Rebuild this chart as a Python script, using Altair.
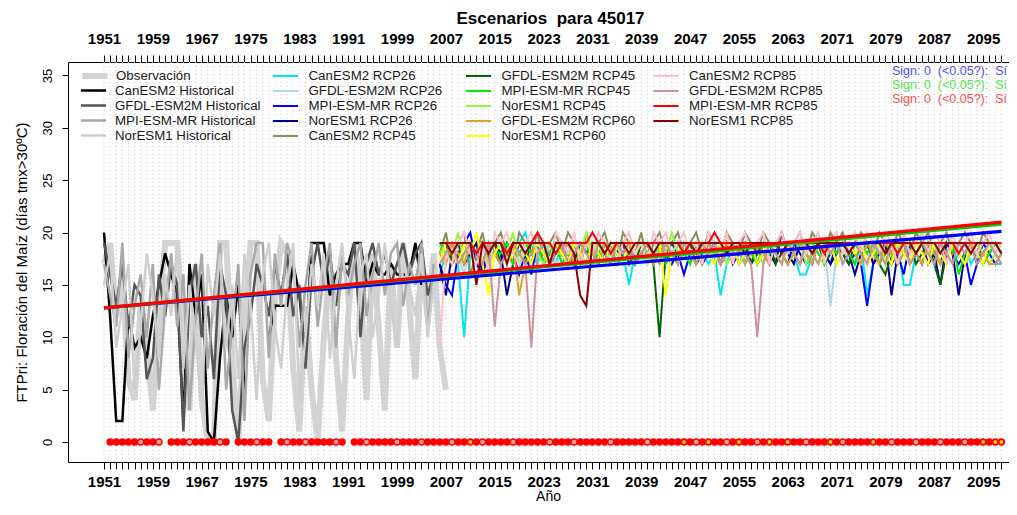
import altair as alt
import pandas as pd

# ---------------- data ----------------
obs_years = list(range(1951, 2008))
hist_years = list(range(1951, 2006))
fut_years = list(range(2006, 2099))
grid_years = list(range(1951, 2099))
y_ticks = [0, 5, 10, 15, 20, 25, 30, 35]

obs = [17, 19, 12, 16, 6, 4, 13, 9, 3, 12,
       19, 19, 19, 10, 3, 17, 4, 0, 0, 19,
       19, 8, 0, 11, 19, 19, 6, 2, 14, 19,
       18, 7, 1, 13, 5, 0, 10, 17, 8, 1,
       12, 19, 15, 4, 18, 11, 3, 17, 9, 19,
       13, 6, 17, 12, 18, 9, 5]

can_hist = [20, 12, 2, 2, 12, 9, 10, 8, 12, 15,
            18, 16, 14, 2, 17, 12, 16, 1, 0, 8,
            14, 10, 15, 5, None, None, None, 10, 13, 13,
            13, 17, 14, 8, 19, 19, 19, 14, 16, 17,
            17, 19, 19, 15, 17, 16, 16, 17, 16, 16,
            16, 19, 15, None, None]
gfdl_hist = [19, 16, 13, 17, 11, 15, 14, 6, 8, 16,
             12, 17, 15, 1, 14, 17, 10, 13, 6, 17,
             14, 3, 0, 9, 12, 17, 15, 12, 17, 14,
             18, 12, 15, 7, 16, 19, 15, 18, 13, 17,
             16, 19, 10, 17, 19, 16, 18, 15, 17, 19,
             16, 18, 19, 14, 16]
mpi_hist = [17, 14, 11, 19, 8, 13, 16, 10, 17, 5,
            13, 18, 11, 16, 3, 12, 18, 7, 14, 19,
            5, 11, 17, 2, 16, 19, 19, 8, 18, 13,
            19, 17, 9, 15, 19, 11, 16, 19, 9, 18,
            14, 17, 19, 12, 16, 19, 14, 18, 19, 13,
            17, 15, 19, 11, 17]
nor_hist = [15, 18, 9, 13, 17, 5, 11, 18, 14, 8,
            16, 12, 19, 7, 15, 10, 3, 17, 12, 18,
            9, 15, 6, 18, 13, 4, 16, 19, 11, 7,
            15, 19, 4, 10, 17, 13, 18, 8, 15, 19,
            12, 6, 16, 18, 10, 14, 19, 13, 9, 17,
            15, 12, 18, 10, 15]

can_26 = [16, 18, 19, 17, 10, 18, 19, 17, 19, 18,
          17, 19, 18, 19, 20, 18, 17, 19, 18, 17,
          19, 18, 17, 19, 18, 19, 17, 18, 19, 17,
          18, 15, 18, 19, 17, 18, 19, 18, 17, 19,
          18, 17, 19, 18, 17, 18, 14, 17, 19, 18,
          17, 19, 18, 17, 19, 18, 17, 19, 18, 16,
          16, 18, 19, 17, 18, 19, 17, 18, 17, 19,
          14, 17, 19, 18, 17, 19, 15, 15, 18, 19,
          18, 17, 19, 18, 17, 18, 19, 17, 18, 19,
          18, 17, 17]
gfdl_26 = [18, 17, 19, 18, 16, 19, 18, 17, 19, 18,
           19, 17, 18, 19, 18, 17, 19, 18, 19, 17,
           18, 19, 17, 18, 19, 18, 17, 19, 18, 19,
           17, 18, 19, 18, 17, 19, 18, 18, 19, 17,
           19, 18, 17, 19, 18, 19, 18, 17, 18, 19,
           17, 18, 19, 18, 19, 17, 18, 19, 18, 17,
           19, 18, 17, 19, 13, 18, 19, 17, 18, 19,
           18, 17, 19, 18, 19, 17, 18, 19, 18, 17,
           19, 18, 17, 18, 19, 18, 17, 19, 18, 19,
           18, 19, 18]
mpi_26 = [17, 15, 14, 18, 19, 20, 17, 16, 19, 18,
          17, 19, 18, 16, 18, 16, 19, 17, 18, 19,
          18, 17, 19, 18, 17, 19, 18, 17, 19, 18,
          19, 17, 18, 19, 18, 17, 19, 18, 17, 18,
          16, 18, 19, 17, 18, 19, 17, 18, 19, 17,
          18, 19, 17, 18, 17, 19, 18, 17, 19, 18,
          17, 18, 19, 18, 17, 19, 18, 17, 18, 17,
          13, 17, 18, 19, 17, 18, 16, 19, 18, 17,
          19, 18, 17, 19, 18, 17, 18, 15, 17, 19,
          18, 17, 18]
nor_26 = [17, 14, 18, 19, 17, 18, 19, 16, 18, 19,
          18, 14, 17, 19, 18, 17, 19, 18, 17, 18,
          19, 17, 18, 17, 19, 18, 17, 19, 18, 17,
          18, 19, 17, 18, 19, 17, 18, 19, 18, 17,
          19, 18, 17, 18, 19, 18, 17, 19, 17, 18,
          19, 17, 18, 19, 18, 17, 20, 18, 17, 19,
          18, 17, 19, 18, 17, 18, 19, 18, 16, 18,
          19, 17, 18, 19, 14, 18, 19, 17, 18, 19,
          17, 18, 15, 19, 18, 14, 18, 19, 17, 18,
          19, 18, 17]
can_45 = [18, 20, 17, 19, 20, 16, 18, 20, 17, 19,
          20, 18, 17, 20, 19, 18, 20, 17, 19, 20,
          18, 20, 19, 17, 20, 18, 19, 20, 18, 17,
          20, 19, 18, 20, 17, 19, 20, 18, 19, 20,
          18, 19, 20, 18, 20, 19, 18, 20, 19, 18,
          20, 19, 18, 20, 19, 18, 20, 18, 19, 20,
          18, 20, 19, 18, 20, 19, 20, 18, 19, 20,
          19, 18, 20, 19, 18, 20, 19, 18, 20, 19,
          20, 18, 19, 20, 18, 19, 20, 19, 18, 20,
          19, 18, 19]
gfdl_45 = [18, 19, 17, 18, 19, 18, 17, 19, 18, 19,
           17, 18, 19, 18, 17, 19, 18, 19, 17, 18,
           19, 18, 17, 19, 18, 19, 18, 17, 19, 18,
           19, 18, 17, 19, 18, 17, 10, 18, 19, 18,
           18, 19, 17, 18, 19, 18, 17, 19, 18, 19,
           18, 17, 19, 18, 19, 17, 18, 19, 18, 17,
           19, 18, 19, 17, 18, 19, 18, 17, 19, 18,
           19, 18, 17, 16, 18, 19, 18, 19, 17, 18,
           19, 17, 15, 18, 19, 18, 17, 19, 18, 17,
           18, 19, 18]
mpi_45 = [19, 18, 19, 17, 18, 19, 18, 17, 19, 18,
          18, 19, 17, 18, 19, 18, 19, 17, 18, 19,
          17, 18, 19, 18, 19, 17, 18, 19, 18, 19,
          18, 19, 17, 18, 19, 18, 19, 17, 18, 19,
          18, 17, 19, 18, 19, 18, 17, 18, 19, 18,
          19, 18, 17, 19, 18, 19, 18, 17, 18, 19,
          18, 19, 18, 17, 19, 18, 19, 18, 17, 19,
          18, 19, 17, 18, 19, 17, 18, 19, 18, 19,
          18, 17, 19, 18, 19, 16, 18, 19, 18, 17,
          18, 19, 18]
nor_45 = [18, 19, 18, 20, 17, 19, 18, 19, 17, 18,
          19, 18, 20, 17, 18, 19, 18, 17, 19, 18,
          18, 17, 19, 18, 20, 18, 19, 17, 18, 19,
          17, 19, 18, 19, 18, 17, 19, 18, 20, 18,
          19, 18, 17, 19, 18, 18, 19, 17, 18, 19,
          18, 19, 18, 17, 19, 18, 17, 19, 18, 19,
          17, 18, 19, 18, 19, 17, 18, 19, 18, 17,
          19, 18, 19, 17, 18, 19, 18, 17, 19, 18,
          18, 19, 17, 18, 19, 18, 17, 18, 19, 18,
          17, 18, 19]
gfdl_60 = [18, 17, 19, 18, 17, 19, 18, 17, 19, 18,
           17, 18, 19, 14, 17, 18, 19, 18, 17, 19,
           18, 19, 17, 18, 19, 18, 17, 19, 18, 17,
           19, 18, 17, 18, 19, 17, 18, 19, 18, 17,
           18, 19, 18, 17, 19, 18, 17, 19, 18, 19,
           17, 18, 19, 18, 17, 19, 18, 17, 18, 19,
           18, 17, 19, 18, 19, 17, 18, 19, 18, 17,
           19, 18, 17, 19, 18, 17, 18, 19, 18, 17,
           19, 18, 17, 18, 19, 18, 17, 19, 18, 18,
           17, 17, 18]
nor_60 = [17, 19, 18, 17, 19, 18, 20, 17, 14, 18,
          19, 17, 18, 19, 18, 17, 19, 18, 17, 19,
          18, 17, 19, 18, 17, 19, 18, 17, 19, 18,
          17, 19, 18, 19, 17, 18, 19, 14, 18, 17,
          19, 18, 17, 19, 18, 17, 19, 18, 19, 17,
          18, 19, 17, 18, 19, 18, 17, 19, 18, 17,
          19, 18, 17, 18, 19, 17, 18, 19, 18, 19,
          17, 18, 19, 18, 17, 19, 18, 17, 19, 18,
          17, 19, 18, 17, 19, 18, 17, 19, 18, 17,
          19, 18, 17]
can_85 = [9, 18, 17, 19, 20, 18, 17, 19, 16, 20,
          19, 20, 18, 17, 19, 20, 18, 19, 17, 20,
          19, 18, 20, 17, 19, 18, 20, 19, 18, 17,
          19, 20, 18, 19, 17, 20, 19, 20, 18, 19,
          20, 18, 19, 17, 20, 19, 18, 20, 17, 19,
          20, 18, 19, 20, 17, 19, 20, 18, 19, 20,
          18, 19, 20, 17, 19, 20, 18, 19, 20, 18,
          20, 19, 18, 20, 19, 17, 20, 18, 19, 20,
          18, 20, 19, 17, 20, 18, 19, 20, 18, 19,
          20, 18, 19]
gfdl_85 = [17, 18, 19, 17, 18, 19, 18, 17, 19, 11,
           17, 18, 19, 18, 17, 9, 18, 19, 17, 18,
           19, 17, 18, 19, 18, 17, 19, 18, 17, 19,
           18, 19, 17, 18, 19, 18, 17, 19, 18, 17,
           19, 18, 17, 19, 18, 19, 17, 18, 19, 18,
           18, 17, 10, 17, 19, 18, 17, 19, 18, 17,
           19, 18, 17, 19, 18, 19, 17, 18, 19, 18,
           17, 19, 18, 17, 19, 18, 19, 17, 18, 19,
           18, 17, 19, 18, 17, 19, 18, 19, 17, 18,
           19, 18, 17]
mpi_85 = [19, 19, 19, 19, 19, 19, 18, 19, 19, 19,
          19, 18, 19, 19, 19, 19, 20, 19, 19, 18,
          19, 19, 19, 19, 19, 20, 19, 19, 18, 19,
          19, 19, 19, 19, 19, 19, 19, 19, 19, 19,
          18, 19, 19, 19, 19, 20, 19, 19, 19, 19,
          19, 19, 18, 19, 19, 19, 19, 19, 19, 19,
          19, 19, 19, 18, 19, 19, 19, 19, 19, 19,
          19, 19, 19, 19, 19, 18, 19, 19, 19, 19,
          19, 19, 19, 19, 19, 18, 19, 19, 19, 19,
          19, 19, 19]
nor_85 = [19, 19, 18, 19, 19, 19, 15, 19, 18, 19,
          19, 17, 19, 19, 18, 19, 19, 19, 17, 19,
          19, 19, 18, 14, 13, 19, 19, 18, 19, 19,
          19, 18, 19, 19, 19, 18, 19, 19, 19, 19,
          19, 19, 18, 19, 19, 19, 19, 18, 19, 19,
          18, 19, 19, 19, 19, 19, 18, 19, 19, 19,
          19, 18, 19, 19, 19, 19, 19, 18, 19, 19,
          19, 19, 19, 18, 19, 19, 19, 19, 18, 19,
          19, 19, 18, 19, 19, 19, 19, 18, 19, 19,
          19, 19, 18]

# linear trends (start/end values)
trend_names = ["RCP26", "RCP45", "RCP85"]
trend_colors = ["#0000FF", "#00CC00", "#FF0000"]
trend_years = [1951, 2098]
trend_start = [12.8, 12.8, 12.8]
trend_end = [20.1, 20.8, 21.0]

dot_years = (list(range(1952, 1961)) + list(range(1962, 1972)) + list(range(1973, 1979))
             + list(range(1980, 1991)) + list(range(1992, 2099)))
pink_dot_years = [1957, 1960, 1965, 1970, 1976, 1981, 1984, 1989, 1994, 1999, 2003,
                  2008, 2013, 2018, 2024, 2028, 2034, 2040, 2048, 2053, 2058, 2066,
                  2072, 2080, 2084, 2088, 2092]
yellow_dot_years = [2011, 2046, 2050, 2055, 2060, 2063, 2070, 2077, 2095, 2097, 2098]

obs_names = ["Observación"]
obs_colors = ["#D3D3D3"]
hist_names = ["CanESM2 Historical", "GFDL-ESM2M Historical",
              "MPI-ESM-MR Historical", "NorESM1 Historical"]
hist_colors = ["#000000", "#555555", "#A9A9A9", "#CFCFCF"]
col2_names = ["CanESM2 RCP26", "GFDL-ESM2M RCP26", "MPI-ESM-MR RCP26", "NorESM1 RCP26", "CanESM2 RCP45"]
col2_colors = ["#00E5EE", "#ADD8E6", "#0000FF", "#00008B", "#8B8B5E"]
col3_names = ["GFDL-ESM2M RCP45", "MPI-ESM-MR RCP45", "NorESM1 RCP45", "GFDL-ESM2M RCP60", "NorESM1 RCP60"]
col3_colors = ["#006400", "#00EE00", "#99F53A", "#E0A030", "#FFFF00"]
col4_names = ["CanESM2 RCP85", "GFDL-ESM2M RCP85", "MPI-ESM-MR RCP85", "NorESM1 RCP85"]
col4_colors = ["#FFC0CB", "#CD919E", "#FF0000", "#8B0000"]

sign_text = "Sign:\u00a00\u00a0\u00a0(<0.05?):\u00a0\u00a0Sí"
sign_colors = ["#4D4DFF", "#4DE64D", "#FF4D4D"]

# ---------------- tables ----------------
def long(name, years, vals):
    return pd.DataFrame({"series": name, "year": years, "value": vals})

df_obs = long("Observación", obs_years, obs)
df_hist = pd.concat([long(n, hist_years, v) for n, v in
                     zip(hist_names, [can_hist, gfdl_hist, mpi_hist, nor_hist])])
df_c2 = pd.concat([long(n, fut_years, v) for n, v in
                   zip(col2_names, [can_26, gfdl_26, mpi_26, nor_26, can_45])])
df_c3 = pd.concat([long(n, fut_years, v) for n, v in
                   zip(col3_names, [gfdl_45, mpi_45, nor_45, gfdl_60, nor_60])])
df_c4 = pd.concat([long(n, fut_years, v) for n, v in
                   zip(col4_names, [can_85, gfdl_85, mpi_85, nor_85])])
df_trend = pd.concat([pd.DataFrame({"series": n, "year": trend_years, "value": [a, b]})
                      for n, a, b in zip(trend_names, trend_start, trend_end)])
df_dots = pd.DataFrame({"year": dot_years, "value": 0})
df_pink = pd.DataFrame({"year": pink_dot_years, "value": 0})
df_yel = pd.DataFrame({"year": yellow_dot_years, "value": 0})
df_grid = pd.DataFrame({"year": grid_years})

# ---------------- encodings ----------------
AX_FONT = "Liberation Sans Narrow, Liberation Sans, Arial"
W, H = 941, 400
x_scale = alt.Scale(domain=[1945.1, 2099.24], nice=False, zero=False)
y_scale = alt.Scale(domain=[-1.91, 36.28], nice=False, zero=False)
label_expr = "(datum.value - 1951) % 8 === 0 ? format(datum.value, 'd') : ''"

x_bottom = alt.X("year:Q", scale=x_scale,
                 axis=alt.Axis(orient="bottom", values=grid_years, labelExpr=label_expr,
                               title="Año", titleFont="Liberation Sans", titleFontSize=14,
                               titleFontWeight="normal", titleX=480, titleY=38,
                               titleBaseline="alphabetic", titleAlign="center",
                               labelFont=AX_FONT, labelFontSize=15, labelFontWeight="bold",
                               labelOverlap=False, labelFlush=False, tickSize=7,
                               labelPadding=5, grid=False, domain=False))
x_top = alt.X("year:Q", scale=x_scale,
              axis=alt.Axis(orient="top", values=grid_years, labelExpr=label_expr, title=None,
                            labelFont=AX_FONT, labelFontSize=15, labelFontWeight="bold",
                            labelOverlap=False, labelFlush=False, tickSize=7,
                            labelPadding=9, grid=False, domain=False))
y_left = alt.Y("value:Q", scale=y_scale,
               axis=alt.Axis(values=y_ticks, title="FTPri: Floración del Maíz (días tmx>30ºC)",
                             titleFont="Liberation Sans", titleFontSize=15,
                             titleFontWeight="normal", titlePadding=12,
                             labelFont="Liberation Sans", labelFontSize=13, labelAngle=-90,
                             tickSize=6, labelPadding=8, grid=False, domain=False))


def leg(x, y, sw, lo=15):
    return alt.Legend(orient="none", legendX=x, legendY=y, title=None,
                      symbolType="M-1.8,0H1.8", symbolSize=196, symbolStrokeWidth=sw,
                      labelFont="Liberation Sans", labelFontSize=13.3, labelColor="#1a1a1a",
                      labelOffset=lo, rowPadding=-0.6, padding=0, direction="vertical",
                      labelLimit=300)


def line_layer(df, names, colors, lx, ly, sw, lo=15):
    return alt.Chart(df).mark_line(strokeWidth=sw, invalid="break-paths-filter-domains").encode(
        x=x_bottom, y=y_left,
        color=alt.Color("series:N", scale=alt.Scale(domain=names, range=colors),
                        legend=leg(lx, ly, sw, lo), sort=names),
    )


obs_layer = line_layer(df_obs, obs_names, obs_colors, 17, 4, 6, 11)
hist_layer = line_layer(df_hist, hist_names, hist_colors, 17, 20, 2.5, 13)
c2 = line_layer(df_c2, col2_names, col2_colors, 209.5, 6, 2)
c3 = line_layer(df_c3, col3_names, col3_colors, 402.5, 6, 2)
c4 = line_layer(df_c4, col4_names, col4_colors, 590, 6, 2)

trend = alt.Chart(df_trend).mark_line(strokeWidth=3.2).encode(
    x=x_bottom, y=y_left,
    color=alt.Color("series:N", scale=alt.Scale(domain=trend_names, range=trend_colors), legend=None),
)

dots = alt.Chart(df_dots).mark_circle(size=55, color="#FF0000", opacity=1).encode(x=x_bottom, y=y_left)
pdots = alt.Chart(df_pink).mark_circle(size=22, color="#F4A0A8", opacity=1).encode(x=x_bottom, y=y_left)
ydots = alt.Chart(df_yel).mark_circle(size=14, color="#E8E000", opacity=1).encode(x=x_bottom, y=y_left)

texts = []
for i, c in enumerate(sign_colors):
    texts.append(
        alt.Chart(pd.DataFrame({"t": [sign_text]})).mark_text(
            align="right", baseline="middle", font="Liberation Sans", fontSize=12.5, color=c
        ).encode(x=alt.value(939), y=alt.value(9 + 14 * i), text="t:N")
    )

inner = alt.layer(obs_layer, hist_layer, c2, c3, c4, trend, dots, pdots, ydots, *texts).resolve_scale(
    color="independent")

grid_top = alt.Chart(df_grid).mark_rule(color="#C4C4C4", strokeDash=[1, 3], strokeWidth=1).encode(x=x_top)

chart = alt.layer(grid_top, inner).resolve_axis(x="independent").properties(
    width=W, height=H,
    title=alt.TitleParams("Escenarios\u00a0\u00a0para 45017", font=AX_FONT, fontSize=17,
                          fontWeight="bold", anchor="middle", dx=12, offset=3),
    autosize="none",
    padding={"left": 60, "top": 54, "right": 0, "bottom": 40},
).configure_view(stroke="black", strokeWidth=1).configure_axis(
    tickColor="black", labelColor="black", titleColor="black"
)

chart.save("out.html", embed_options={"renderer": "svg", "actions": False})
